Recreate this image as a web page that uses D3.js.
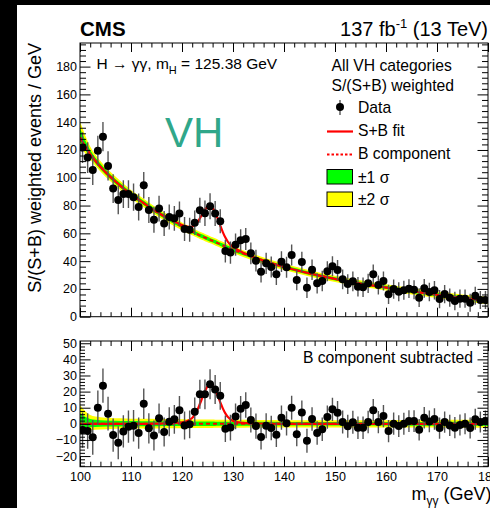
<!DOCTYPE html>
<html>
<head>
<meta charset="utf-8">
<script src="https://cdnjs.cloudflare.com/ajax/libs/d3/7.8.5/d3.min.js"></script>
<style>
  html, body { margin: 0; padding: 0; background: #000; }
  svg { display: block; }
  text { font-family: "Liberation Sans", Arial, Helvetica, sans-serif; }
</style>
</head>
<body>
<svg id="chart" width="490" height="508"></svg>
<script>
// ---- data: diphoton mass bins (1 GeV), S/(S+B) weighted yields ----
const binCenters = d3.range(100.5, 180, 1);
const dataValues = [
  121.7, 114.5, 105.6, 119.5, 129.6, 108.5, 92.2, 84.0, 88.3, 88.3,
  86.0, 79.0, 94.6, 76.8, 69.8, 77.8, 67.0, 71.8, 70.8, 74.2,
  63.1, 62.6, 67.7, 76.6, 74.4, 79.5, 74.3, 68.7, 47.2, 46.2,
  51.8, 55.0, 55.9, 45.6, 40.3, 32.4, 38.4, 35.8, 30.5, 39.6,
  35.6, 44.4, 26.4, 39.4, 20.9, 33.8, 24.0, 25.7, 32.7, 36.3,
  33.6, 26.9, 23.5, 25.5, 21.6, 21.2, 24.0, 30.5, 22.8, 25.7,
  16.1, 19.9, 18.0, 19.0, 20.2, 19.4, 13.7, 20.4, 17.8, 19.0,
  12.7, 16.3, 13.7, 11.3, 13.0, 13.0, 10.1, 15.1, 12.0, 12.0
];
const residualValues = [
  -3.9, -4.5, -8.4, 10.0, 23.7, 6.3, -7.0, -11.7, -4.7, -1.8,
  -1.2, -5.7, 12.5, -2.8, -7.2, 3.4, -5.1, 1.3, 2.8, 8.4,
  -1.0, -0.3, 7.5, 18.3, 18.3, 24.5, 21.3, 17.4, -3.0, -2.3,
  4.6, 9.4, 11.7, 2.4, -1.4, -8.2, -1.2, -2.6, -6.8, 3.8,
  0.3, 10.0, -6.5, 7.1, -10.5, 3.0, -5.7, -3.4, 4.2, 9.0,
  6.9, 1.1, -1.5, 1.0, -2.4, -2.4, 1.1, 8.4, 1.1, 4.8,
  -4.5, 0.1, -1.4, 0.1, 1.7, 1.7, -3.7, 3.8, 1.5, 3.0,
  -2.6, 1.1, -1.0, -2.4, -0.7, 0.1, -2.6, 2.8, 1.1, 1.7
];
const errorValues = [
  11.0, 11.0, 10.8, 10.7, 10.6, 10.5, 10.3, 10.2, 10.0, 10.0,
  9.8, 9.7, 9.5, 9.4, 9.3, 9.2, 9.0, 9.0, 8.9, 8.8,
  8.7, 8.6, 8.8, 9.0, 9.2, 9.3, 9.0, 8.6, 8.2, 8.0,
  8.0, 7.9, 7.9, 7.8, 7.8, 7.7, 7.7, 7.6, 7.6, 7.5,
  7.5, 7.5, 7.4, 7.4, 7.4, 7.3, 7.3, 7.3, 7.2, 7.2,
  7.2, 7.1, 7.1, 7.1, 7.0, 7.0, 7.0, 7.0, 6.9, 6.9,
  6.9, 6.9, 6.8, 6.8, 6.8, 6.8, 6.7, 6.7, 6.7, 6.7,
  6.6, 6.6, 6.6, 6.6, 6.5, 6.5, 6.5, 6.5, 6.5, 6.5
];

// ---- fit curves sampled at knots ----
const fitMass = [100, 102, 104, 106, 108, 110, 112, 115, 118, 120, 121, 122, 122.5, 123, 123.5, 124,
                 124.5, 125, 125.4, 126, 126.5, 127, 127.5, 128, 128.5, 129, 130, 132, 135, 140,
                 145, 150, 155, 160, 165, 170, 175, 180];
const bkgFit  = [129, 117, 108, 100.5, 94, 88, 83, 75.5, 69, 65, 63, 61.2, 60.3, 59.4, 58.5, 57.7,
                 56.9, 56.1, 55.5, 54.6, 53.8, 53, 52.1, 51.3, 50.5, 49.7, 48.2, 45.4, 41.4, 35.8,
                 31.2, 27.2, 23.9, 21, 18.3, 15.8, 13.5, 11.5];
const sigFit  = [0, 0, 0, 0, 0, 0, 0, 0.1, 0.4, 1.0, 1.8, 3.6, 5.8, 8.6, 12.3, 16.3,
                 20.2, 23.2, 24.4, 23.6, 21.2, 17.6, 13.5, 9.6, 6.5, 4.2, 1.8, 0.6, 0.2, 0,
                 0, 0, 0, 0, 0, 0, 0, 0];

// ---- background uncertainty bands (offsets from the B fit) ----
const bandMass  = [100, 100.5, 101, 102, 103, 105, 110, 120, 130, 140, 150, 160, 170, 180];
const band2Up   = [11.5, 9.5, 7.5, 5.5, 4.5, 3.8, 3.2, 2.8, 2.5, 2.3, 2.3, 2.3, 2.4, 2.6];
const band2Down = [-6.5, -5.5, -4.8, -4.0, -3.6, -3.3, -3.0, -2.7, -2.4, -2.2, -2.2, -2.2, -2.3, -2.5];
const band1Up   = [6.5, 5.0, 4.0, 3.0, 2.4, 2.0, 1.7, 1.5, 1.3, 1.2, 1.2, 1.2, 1.2, 1.3];
const band1Down = [-3.2, -2.8, -2.5, -2.1, -1.9, -1.7, -1.5, -1.4, -1.2, -1.1, -1.1, -1.1, -1.2, -1.3];

const xTicks = [100, 110, 120, 130, 140, 150, 160, 170, 180];
const yTicksTop = [0, 20, 40, 60, 80, 100, 120, 140, 160, 180];
const yTicksBottom = [-20, -10, 0, 10, 20, 30, 40, 50];

// ---- layout ----
const svg = d3.select("#chart");
const FONT = '"Liberation Sans", Arial, Helvetica, sans-serif';
svg.append("rect").attr("width", 490).attr("height", 508).attr("fill", "#000");
svg.append("rect").attr("x", 17).attr("y", 5).attr("width", 473).attr("height", 503).attr("fill", "#fff");

const x = d3.scaleLinear().domain([100, 180]).range([80, 488]);
const yTop = d3.scaleLinear().domain([0, 197]).range([316.7, 43]);
const yBot = d3.scaleLinear().domain([-26.6, 51.4]).range([466.7, 341]);

const s2u = d3.scaleLinear().domain(bandMass).range(band2Up);
const s2d = d3.scaleLinear().domain(bandMass).range(band2Down);
const s1u = d3.scaleLinear().domain(bandMass).range(band1Up);
const s1d = d3.scaleLinear().domain(bandMass).range(band1Down);

const fitPts = fitMass.map((m, i) => ({ m, b: bkgFit[i], s: sigFit[i] }));
const pts = binCenters.map((m, i) => ({ m, v: dataValues[i], r: residualValues[i], e: errorValues[i] }));

const defs = svg.append("defs");
defs.append("clipPath").attr("id", "clipTop").append("rect")
  .attr("x", 80).attr("y", 43).attr("width", 408).attr("height", 316.7 - 43);
defs.append("clipPath").attr("id", "clipBot").append("rect")
  .attr("x", 80).attr("y", 341).attr("width", 408).attr("height", 466.7 - 341);

function drawPanel(y, clipId, baseOf, valOf, sigOf) {
  const g = svg.append("g").attr("clip-path", `url(#${clipId})`);
  const area = (lo, hi) => d3.area().curve(d3.curveMonotoneX)
    .x(d => x(d.m)).y0(d => y(baseOf(d) + lo(d.m))).y1(d => y(baseOf(d) + hi(d.m)));
  g.append("path").datum(fitPts).attr("fill", "#ffff00").attr("d", area(s2d, s2u));
  g.append("path").datum(fitPts).attr("fill", "#00ff00").attr("d", area(s1d, s1u));
  // B component (dashed)
  g.append("path").datum(fitPts).attr("fill", "none").attr("stroke", "#ff0000")
    .attr("stroke-width", 2).attr("stroke-dasharray", "4,3")
    .attr("d", d3.line().curve(d3.curveMonotoneX).x(d => x(d.m)).y(d => y(baseOf(d))));
  // S+B fit
  g.append("path").datum(fitPts).attr("fill", "none").attr("stroke", "#ff0000")
    .attr("stroke-width", 2.2)
    .attr("d", d3.line().curve(d3.curveCatmullRom.alpha(0.5)).x(d => x(d.m)).y(d => y(baseOf(d) + sigOf(d))));
  // data with error bars
  g.selectAll("line.err").data(pts).join("line").attr("class", "err")
    .attr("x1", d => x(d.m)).attr("x2", d => x(d.m))
    .attr("y1", d => y(valOf(d) - d.e)).attr("y2", d => y(valOf(d) + d.e))
    .attr("stroke", "#555").attr("stroke-width", 1.4);
  g.selectAll("circle.pt").data(pts).join("circle").attr("class", "pt")
    .attr("cx", d => x(d.m)).attr("cy", d => y(valOf(d))).attr("r", 4).attr("fill", "#000");
}

drawPanel(yTop, "clipTop", d => d.b, d => d.v, d => d.s);
drawPanel(yBot, "clipBot", d => 0, d => d.r, d => d.s);

function frame(y, yMajor, yMinorStep, xMajorLen, xMinorLen, yMajorLen, yMinorLen, xLabels) {
  const [d0, d1] = y.domain();
  const [r0, r1] = y.range();
  const g = svg.append("g");
  const yMinor = d3.range(Math.ceil(d0 / yMinorStep) * yMinorStep, d1, yMinorStep)
    .filter(v => !yMajor.includes(Math.round(v * 1000) / 1000));
  const xMinor = d3.range(100, 180.01, 2).filter(v => v % 10 !== 0);

  const addAxis = (axis, tr) => {
    const a = g.append("g").attr("transform", tr).call(axis);
    a.select(".domain").remove();
    a.selectAll("line").attr("stroke", "#000");
    return a;
  };
  // left
  const la = addAxis(d3.axisLeft(y).tickValues(yMajor).tickSize(-yMajorLen).tickPadding(3)
    .tickFormat(d3.format("d")), "translate(80,0)");
  la.selectAll("text").attr("font-size", 12.5).attr("font-family", FONT).attr("fill", "#000");
  addAxis(d3.axisLeft(y).tickValues(yMinor).tickSize(-yMinorLen).tickFormat(""), "translate(80,0)");
  // right
  addAxis(d3.axisRight(y).tickValues(yMajor).tickSize(-yMajorLen).tickFormat(""), "translate(488,0)");
  addAxis(d3.axisRight(y).tickValues(yMinor).tickSize(-yMinorLen).tickFormat(""), "translate(488,0)");
  // bottom
  const ba = addAxis(d3.axisBottom(x).tickValues(xTicks).tickSize(-xMajorLen).tickPadding(5)
    .tickFormat(xLabels ? d3.format("d") : ""), `translate(0,${r0})`);
  ba.selectAll("text").attr("font-size", 12.5).attr("font-family", FONT).attr("fill", "#000");
  addAxis(d3.axisBottom(x).tickValues(xMinor).tickSize(-xMinorLen).tickFormat(""), `translate(0,${r0})`);
  // top
  addAxis(d3.axisTop(x).tickValues(xTicks).tickSize(-xMajorLen).tickFormat(""), `translate(0,${r1})`);
  addAxis(d3.axisTop(x).tickValues(xMinor).tickSize(-xMinorLen).tickFormat(""), `translate(0,${r1})`);
  g.append("rect").attr("x", 80).attr("y", r1).attr("width", 408).attr("height", r0 - r1)
    .attr("fill", "none").attr("stroke", "#000").attr("stroke-width", 1);
}

frame(yTop, yTicksTop, 4, 9, 4.5, 10.5, 6, false);
frame(yBot, yTicksBottom, 2, 10, 5, 10.5, 5, true);

// ---- texts ----
const txt = (xp, yp, s, size, opts = {}) => svg.append("text").attr("x", xp).attr("y", yp)
  .attr("font-size", size).attr("fill", opts.fill || "#000")
  .attr("font-weight", opts.bold ? "bold" : null)
  .attr("text-anchor", opts.anchor || "start").text(s);

txt(80, 35.5, "CMS", 20.5, { bold: true });
const lumi = svg.append("text").attr("x", 488).attr("y", 35.5).attr("font-size", 20)
  .attr("text-anchor", "end");
lumi.append("tspan").text("137 fb");
lumi.append("tspan").attr("font-size", 13).attr("dy", -8).text("-1");
lumi.append("tspan").attr("dy", 8).text(" (13 TeV)");

svg.append("text").attr("transform", "translate(41,43) rotate(-90)")
  .attr("text-anchor", "end").attr("font-size", 18).text("S/(S+B) weighted events / GeV");

const hl = svg.append("text").attr("x", 96.5).attr("y", 68.5).attr("font-size", 15.5);
hl.append("tspan").text("H \u2192 \u03b3\u03b3, m");
hl.append("tspan").attr("font-size", 11).attr("dy", 5).text("H");
hl.append("tspan").attr("dy", -5).text(" = 125.38 GeV");

txt(165, 146.5, "VH", 42, { fill: "#30a78a" });

txt(331.5, 71, "All VH categories", 15.7);
txt(331.5, 91, "S/(S+B) weighted", 15.7);

// legend
const lg = svg.append("g");
lg.append("line").attr("x1", 340).attr("x2", 340).attr("y1", 100).attr("y2", 115)
  .attr("stroke", "#555").attr("stroke-width", 1.4);
lg.append("circle").attr("cx", 340).attr("cy", 107).attr("r", 4).attr("fill", "#000");
txt(358, 112.7, "Data", 15.7);
lg.append("line").attr("x1", 327).attr("x2", 353).attr("y1", 131.5).attr("y2", 131.5)
  .attr("stroke", "#ff0000").attr("stroke-width", 2.2);
txt(358, 136, "S+B fit", 15.7);
lg.append("line").attr("x1", 327).attr("x2", 353).attr("y1", 154.5).attr("y2", 154.5)
  .attr("stroke", "#ff0000").attr("stroke-width", 2).attr("stroke-dasharray", "2.5,2");
txt(358, 159.3, "B component", 15.7);
lg.append("rect").attr("x", 327).attr("y", 169.5).attr("width", 25.5).attr("height", 14.5)
  .attr("fill", "#00ff00").attr("stroke", "#000").attr("stroke-width", 1);
txt(358, 182.7, "\u00b11 \u03c3", 15.7);
lg.append("rect").attr("x", 327).attr("y", 192).attr("width", 25.5).attr("height", 14.5)
  .attr("fill", "#ffff00").attr("stroke", "#000").attr("stroke-width", 1);
txt(358, 205.3, "\u00b12 \u03c3", 15.7);

txt(473, 362.7, "B component subtracted", 15.7, { anchor: "end" });

const xt = svg.append("text").attr("x", 411.5).attr("y", 500).attr("font-size", 18);
xt.append("tspan").text("m");
xt.append("tspan").attr("font-size", 12).attr("dy", 5).text("\u03b3\u03b3");
xt.append("tspan").attr("dy", -5).text(" (GeV)");
</script>
</body>
</html>
